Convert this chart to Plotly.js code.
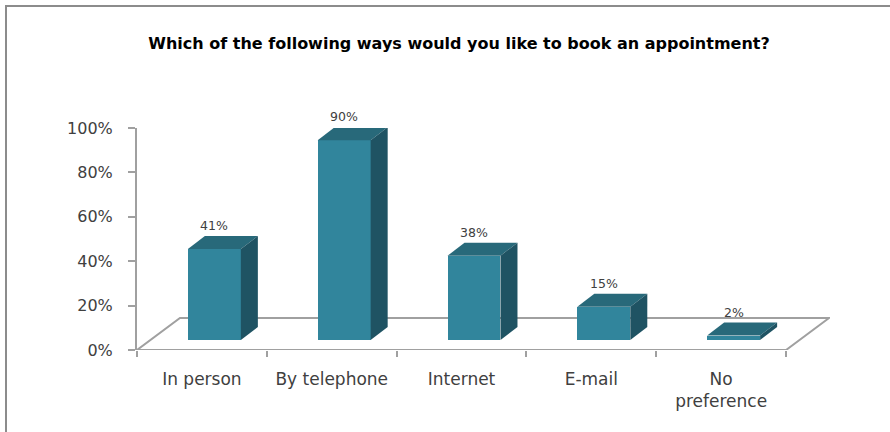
<!DOCTYPE html>
<html><head><meta charset="utf-8">
<script src="https://cdn.plot.ly/plotly-3.0.1.min.js"></script>
<style>
html,body{margin:0;padding:0;background:#fff;overflow:hidden;}
#chart{width:890px;height:432px;}
#frame{position:absolute;left:5px;top:5px;width:883px;height:425px;border-top:2px solid #8c8c8c;border-left:2px solid #8c8c8c;pointer-events:none;}
</style>
</head><body>
<div id="chart"></div><div id="frame"></div>
<script>
const categories = ["In person", "By telephone", "Internet", "E-mail", "No<br>preference"];
const values = [0.41, 0.90, 0.38, 0.15, 0.02];
const valueLabels = ["41%", "90%", "38%", "15%", "2%"];
const yTickValues = [0, 0.2, 0.4, 0.6, 0.8, 1.0];
const yTickLabels = ["0%", "20%", "40%", "60%", "80%", "100%"];
const titleText = "Which of the following ways would you like to book an appointment?";

// 3D look geometry (in axis units)
const BASE = 0.045, OFF = 0.096, W = 0.408, DX = 0.131, DY = 0.0586, FDX = 0.331, FDY = 0.144;
const PX_PER_UNIT_Y = 222;
const FRONT = '#31859C', TOPC = '#28697A', SIDE = '#1F5363';
const GREY = '#a0a0a0', TXT = '#404040';
const idx = categories.map((c, i) => i);
const n = categories.length;
const traces = [];

// floor outline (drawn below the bars)
const fx = [-0.5, n - 0.5, n - 0.5 + FDX, -0.5 + FDX];
const fy = [0, 0, FDY, FDY];
const floorPath = 'M' + fx.map((x, k) => x + ',' + fy[k]).join(' L') + ' Z';
const shapes = [{type: 'path', xref: 'x', yref: 'y', path: floorPath, layer: 'below',
  line: {color: GREY, width: 2}, fillcolor: 'rgba(0,0,0,0)'}];

// front faces
traces.push({type: 'bar', x: idx, y: values, base: BASE, offset: OFF - W / 2, width: W,
  marker: {color: FRONT, line: {width: 0}}, hoverinfo: 'skip', showlegend: false});

// top and side faces
idx.forEach((i) => {
  const x0 = i + OFF - W / 2, x1 = i + OFF + W / 2, top = BASE + values[i];
  traces.push({x: [x0, x1, x1 + DX, x0 + DX, x0], y: [top, top, top + DY, top + DY, top],
    mode: 'lines', fill: 'toself', fillcolor: TOPC, line: {width: 0, color: TOPC},
    hoverinfo: 'skip', showlegend: false, cliponaxis: false});
  traces.push({x: [x1, x1 + DX, x1 + DX, x1, x1], y: [BASE, BASE + DY, top + DY, top, BASE],
    mode: 'lines', fill: 'toself', fillcolor: SIDE, line: {width: 0, color: SIDE},
    hoverinfo: 'skip', showlegend: false, cliponaxis: false});
});

// value labels as annotations placed on the data scale (anchored at bar top, shifted by the depth)
const annotations = idx.map(i => ({x: i + OFF, y: BASE + values[i], xref: 'x', yref: 'y',
  text: valueLabels[i], showarrow: false, xanchor: 'center', yanchor: 'bottom', yshift: DY * PX_PER_UNIT_Y + 1,
  font: {family: 'DejaVu Sans', size: 12.5, color: TXT}}));

// invisible trace for the tick-mark axis
traces.push({x: [-0.5], y: [0], xaxis: 'x2', mode: 'markers', marker: {opacity: 0}, hoverinfo: 'skip', showlegend: false});

const xr = [-0.5, n - 0.5 + 44 / 130];
const layout = {
  width: 890, height: 432,
  margin: {l: 137, r: 60, t: 128, b: 82},
  paper_bgcolor: '#fff', plot_bgcolor: 'rgba(0,0,0,0)',
  title: {text: titleText, font: {family: 'DejaVu Sans', size: 16, color: '#000', weight: 'bold'},
    xref: 'container', x: 459 / 890, xanchor: 'center', yref: 'container', y: 1 - 43 / 432, yanchor: 'middle'},
  showlegend: false,
  annotations: annotations,
  shapes: shapes,
  xaxis: {range: xr, tickvals: idx, ticktext: categories, ticks: '', showline: false, showgrid: false,
    zeroline: false, tickfont: {family: 'DejaVu Sans', size: 17, color: TXT}, ticklabelstandoff: 17, fixedrange: true},
  xaxis2: {range: xr, overlaying: 'x', side: 'bottom', tickvals: [-0.5, 0.5, 1.5, 2.5, 3.5, 4.5], ticks: 'outside',
    ticklen: 6, tickwidth: 2, tickcolor: GREY, showticklabels: false, showline: false, showgrid: false, zeroline: false},
  yaxis: {range: [0, 1], tickvals: yTickValues, ticktext: yTickLabels, ticks: 'outside', ticklen: 7, tickwidth: 2,
    tickcolor: GREY, showline: true, linecolor: GREY, linewidth: 2, showgrid: false, zeroline: false,
    tickfont: {family: 'DejaVu Sans', size: 16, color: TXT}, ticklabelstandoff: 12, fixedrange: true},
  bargap: 0
};
Plotly.newPlot('chart', traces, layout, {displayModeBar: false, staticPlot: true});
</script>
</body></html>
